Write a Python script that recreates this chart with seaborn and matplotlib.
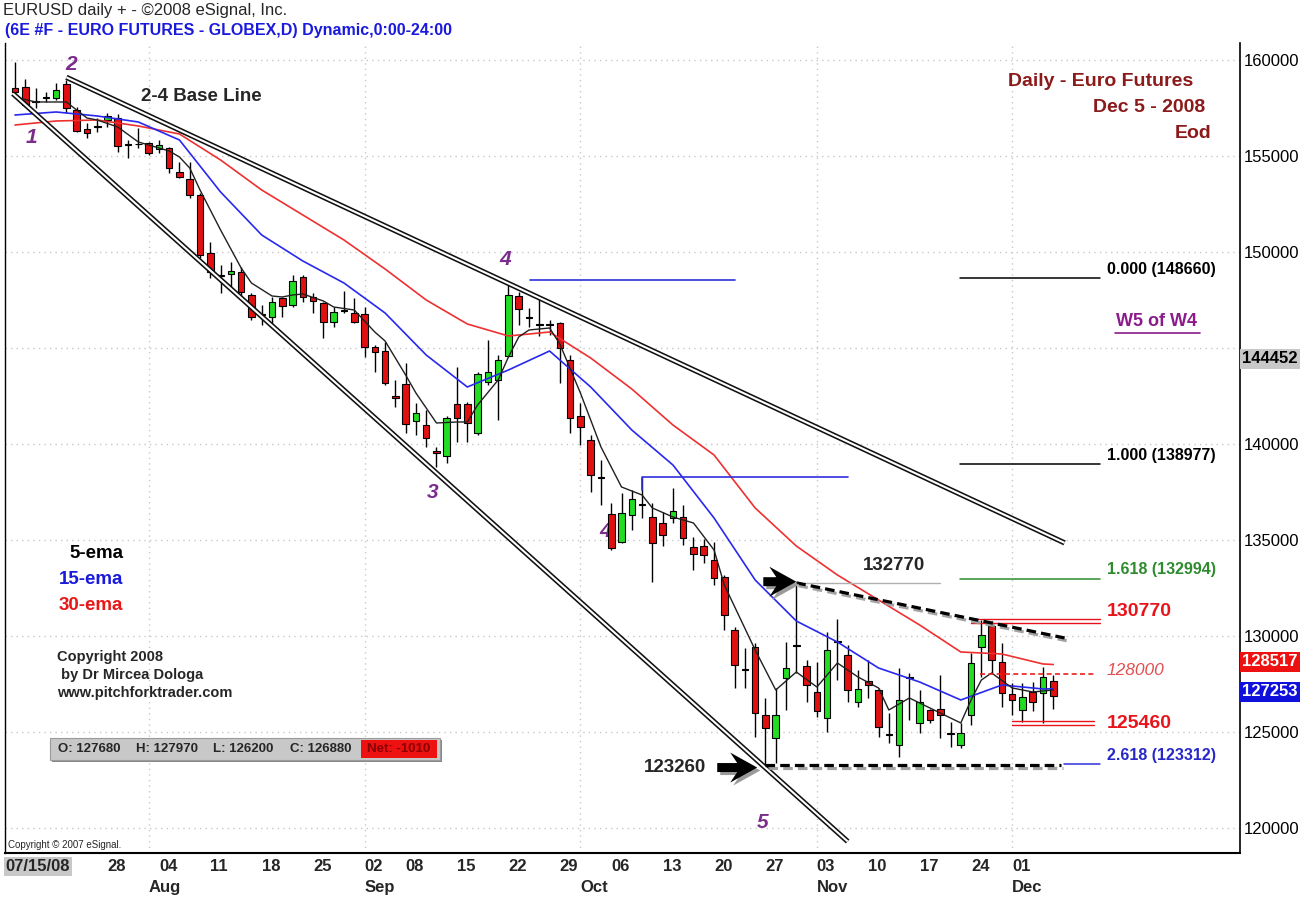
import numpy as np
import pandas as pd
import matplotlib
matplotlib.use("Agg")
import matplotlib.pyplot as plt
import matplotlib.transforms as mtransforms
from matplotlib import patheffects as pe
from matplotlib.patches import Rectangle, Polygon
from matplotlib.lines import Line2D
import seaborn as sns

# ---------------- data ----------------
dates = pd.bdate_range("2008-07-15", "2008-12-05")
dates = dates.drop([pd.Timestamp("2008-09-01"), pd.Timestamp("2008-11-27")])

opens = [158540,158600,157850,158050,158020,158750,157400,156400,156520,156870,
         156980,155600,155600,155680,155360,155420,154170,153800,152970,149950,
         148780,148850,148960,147760,146750,146610,147600,147240,148700,147660,
         147350,146350,146950,146820,146770,145050,144840,142500,143120,141200,
         140990,139630,139370,142080,142080,140570,143230,143330,144580,147710,
         146580,146220,146220,146300,144380,141460,140210,138250,136350,134900,
         136300,136840,136200,135890,136150,136200,134640,134690,133960,133070,
         130310,128250,129430,125880,124690,127810,129500,128440,127080,125730,
         129710,129010,126570,127660,127190,124860,124320,127830,125470,126150,
         126200,124920,124320,125890,129430,130520,128650,126980,126150,127080,
         127030,127680]
highs = [159900,159000,158540,158330,158800,158960,157550,156700,157000,157240,
         157180,155830,156460,155730,155830,155470,154690,154690,153070,150520,
         149320,149480,149220,147870,147240,147660,147660,148800,148800,147870,
         147400,147140,147970,147600,147140,145160,145310,143330,144220,142140,
         141770,139840,141460,144010,142190,143750,145420,144640,148390,147920,
         147080,147550,146460,146350,144640,142140,140470,139170,136930,137450,
         137600,138290,136930,136460,137710,136820,135160,135060,134900,133180,
         130470,129380,129640,126780,127290,129690,132770,128750,128650,130210,
         130880,129530,128230,128750,127290,125990,128340,128070,127190,126200,
         127970,125520,125470,129120,130830,130770,129640,127550,127550,127600,
         128390,127970]
lows = [158070,157550,157500,157800,157900,157240,156250,155950,156250,156500,
        155200,154900,155400,155050,155150,154120,153850,152810,149690,148650,
        147870,148180,147660,146460,146200,146200,146610,147140,147400,146820,
        145520,146090,146820,146300,144530,143750,143070,141930,140570,140470,
        139840,138800,139010,140100,140100,140470,143070,141250,144530,146200,
        146090,145620,145680,143180,140570,139950,137500,136820,134480,134850,
        135520,136150,132810,134690,135890,134740,133440,133800,132650,130310,
        127290,127290,124740,123260,123390,126150,128070,126570,125780,125000,
        127710,126570,126310,126780,124740,124430,123700,125630,124950,125470,
        124690,124220,124170,125370,127860,128070,126300,125890,125520,126100,
        125460,126200]
closes = [158330,157650,157800,158000,158440,157500,156300,156200,156560,157080,
          155520,155570,155640,155150,155570,154380,153900,152970,149840,148960,
          148750,149010,147920,146610,146720,147400,147190,148490,147660,147450,
          146350,146870,146930,146350,145050,144790,143180,142390,141040,141610,
          140310,139530,141350,141350,141090,143650,143750,144380,147760,147030,
          146560,146200,146200,145000,141350,140890,138390,138230,134580,136400,
          137140,136820,134850,135260,136510,135100,134280,134220,133020,131090,
          128490,128230,125990,125210,125880,128340,129480,127450,126100,129270,
          129690,127190,127240,127450,125260,124840,126670,127810,126570,125630,
          125890,124900,124950,128600,130050,128750,127030,126670,126830,126570,
          127890,126880]

ema_long_idx = [0,4,8,12,16,20,24,28,32,36,40,44,48,52,56,60,64,68,72,76,80,84,88,92,96,100,101]
ema30 = [156615,156823,156875,156563,156146,154792,153230,151928,150626,149115,147501,146251,
         145626,145834,144480,142866,140991,139428,136668,134689,133179,131877,130575,129169,
         129064,128544,128517]
ema15 = [157136,157292,157084,156771,155834,153125,150886,149532,148386,146824,144636,142970,
         143855,144845,142970,140730,138908,136147,132918,130783,129689,128335,127606,126669,
         127450,127242,127253]
ema5_idx = [0,2,5,7,8,10,12,13,15,16,17,18,20,21,22,23,25,26,27,28,30,31,33,35,36,38,39,41,43,44,
            45,47,48,49,50,52,53,55,57,59,61,62,64,66,68,69,72,74,76,78,80,82,84,85,87,89,92,93,94,95,
            97,99,101]
ema5 = [158073,157813,157813,156979,156875,156510,155730,155573,155261,154948,154375,153230,151146,
        150157,149167,148386,147709,147657,147761,147813,147449,147136,146980,145834,145365,143594,
        142658,141095,141147,141147,142033,143334,144532,145574,145938,146043,145209,142658,139845,
        137762,137345,136668,136200,135887,134481,132658,129273,127190,128127,127346,128596,127867,
        127294,126148,126773,126252,125471,126669,127710,128075,127294,127086,127190]

tick_dates = ["2008-07-15","2008-07-28","2008-08-04","2008-08-11","2008-08-18","2008-08-25",
              "2008-09-02","2008-09-08","2008-09-15","2008-09-22","2008-09-29","2008-10-06",
              "2008-10-13","2008-10-20","2008-10-27","2008-11-03","2008-11-10","2008-11-17",
              "2008-11-24","2008-12-01"]
tick_labels = ["07/15/08","28","04","11","18","25","02","08","15","22","29","06","13","20","27",
               "03","10","17","24","01"]
month_dates = ["2008-08-01","2008-09-02","2008-10-01","2008-11-03","2008-12-01"]
month_labels = ["Aug","Sep","Oct","Nov","Dec"]
y_ticks = [120000,125000,130000,135000,140000,145000,150000,155000,160000]

# annotation levels
upper_line_x = [5.0, 102.1]; upper_line_y = [159100, 134850]
lower_line_x = [-0.2, 81.0]; lower_line_y = [158250, 119300]
fib_levels = [148660, 138977, 132994]
fib_texts = ["0.000 (148660)", "1.000 (138977)", "1.618 (132994)"]
fib_colors = ["black", "black", "#2e8b2e"]
level_130770 = 130770
level_128000 = 128000
level_125460 = 125460
fib_2618 = 123312
high_5 = 132770
low_5 = 123260
dash_end_price = 129900
blue_top_level = 148550
blue_mid_level = 138290
blue_mid_low = 137600
last_ema30 = 128517
last_ema15 = 127253
cursor_price = 144452

# ---------------- figure ----------------
sns.set_theme(style="white")
plt.rcParams['font.family'] = ['Liberation Sans', 'DejaVu Sans']
W, H = 1313, 901
def fx(px): return px / W
def fy(py): return 1 - py / H

fig = plt.figure(figsize=(13.13, 9.01), dpi=100, facecolor="white")
ax = fig.add_axes([fx(5), 48 / H, 1235 / W, 810 / H])
ax.set_facecolor("white")
ax.set_xlim(-0.97, 119.16)
ax.set_ylim(118700, 160885)

n = len(closes)
idx = np.arange(n)
o = np.array(opens); h = np.array(highs); l = np.array(lows); c = np.array(closes)
up = c > o

pos = {d: i for i, d in enumerate(dates)}
month_idx = [pos[pd.Timestamp(d)] for d in month_dates]
tick_idx = [pos[pd.Timestamp(d)] for d in tick_dates]

# grid
for lvl in y_ticks:
    ax.axhline(lvl, color="#c8c8c8", lw=1.0, ls=(0, (1, 3)), zorder=0)
for m in month_idx:
    ax.axvline(m, color="#c8c8c8", lw=1.0, ls=(0, (1, 3)), zorder=0)

# wave labels (behind candles)
wave_col = "#7b2d8b"
for (xi, yv, t) in [(1.65, 155938, "1"), (5.5, 159740, "2"), (40.6, 137450, "3"),
                    (47.7, 149584, "4"), (57.4, 135418, "4"), (72.7, 120263, "5")]:
    ax.text(xi, yv, t, color=wave_col, fontsize=15, fontweight="bold", fontstyle="italic",
            ha="center", va="center", zorder=2)

# candles
ax.vlines(idx, l, h, color="black", lw=1.0, zorder=3)
bb = np.minimum(o, c)
bh = np.maximum(np.abs(c - o), 40)
ax.bar(idx[up], bh[up], bottom=bb[up], width=0.64, color="#22dd22", edgecolor="black", lw=0.8, zorder=4)
ax.bar(idx[~up], bh[~up], bottom=bb[~up], width=0.64, color="#e01010", edgecolor="black", lw=0.8, zorder=4)

# EMAs (seaborn)
sns.lineplot(x=ema_long_idx, y=ema30, color="#ee3030", lw=1.2, ax=ax, estimator=None, sort=False, zorder=5)
sns.lineplot(x=ema_long_idx, y=ema15, color="#2828ee", lw=1.2, ax=ax, estimator=None, sort=False, zorder=5)
sns.lineplot(x=ema5_idx, y=ema5, color="#202020", lw=1.0, ax=ax, estimator=None, sort=False, zorder=5)
ax.set_xlabel(""); ax.set_ylabel("")

# double trend lines
for xs, ys in [(upper_line_x, upper_line_y), (lower_line_x, lower_line_y)]:
    ax.plot(xs, ys, color="#111111", lw=3.8, solid_capstyle="butt", zorder=6)
    ax.plot(xs, ys, color="white", lw=1.5, solid_capstyle="butt", zorder=7)

# blue horizontal lines
ax.plot([50.1, 70.0], [blue_top_level] * 2, color="#3030dd", lw=1.2, zorder=6)
ax.plot([61.0, 61.0, 81.0], [blue_mid_low, blue_mid_level, blue_mid_level], color="#3030dd", lw=1.2, zorder=6)

# shadowed dashed lines
shadow = [pe.SimpleLineShadow(offset=(1.5, -2), shadow_color="#999999", alpha=0.9), pe.Normal()]
ax.plot([76.0, 102.1], [high_5, dash_end_price], color="black", lw=2.3, ls=(0, (3, 1.6)),
        zorder=8, path_effects=shadow)
ax.plot([73.0, 101.7], [low_5, low_5], color="black", lw=2.3, ls=(0, (3, 1.6)),
        zorder=8, path_effects=shadow)
ax.plot([76.0, 90.0], [high_5, high_5], color="#b0b0b0", lw=1.0, zorder=6)

# block arrows (pixel-shaped, anchored at their tip in data coords)
def block_arrow(tipx, tipy, tail):
    verts = [(0, 0), (-27, 15), (-20, 4.5), (-tail, 4.5), (-tail, -4.5), (-20, -4.5), (-27, -15)]
    for off, col in [((3, -3), "#9a9a9a"), ((0, 0), "black")]:
        tr = mtransforms.Affine2D().translate(*off) + mtransforms.ScaledTranslation(tipx, tipy, ax.transData)
        ax.add_patch(Polygon(verts, closed=True, fc=col, ec="none", transform=tr, zorder=9, clip_on=False))

block_arrow(76.0, 132830, 33)
block_arrow(72.2, 123150, 40)
ax.text(85.5, 133650, "132770", fontsize=13.5, fontweight="bold", ha="center", va="center", zorder=9)
ax.text(64.2, 123150, "123260", fontsize=13.5, fontweight="bold", ha="center", va="center", zorder=9)

# fib / level lines on the right
tx = 106.2
for lv, t, col in zip(fib_levels, fib_texts, fib_colors):
    ax.plot([91.9, 105.5], [lv, lv], color=col, lw=1.1, zorder=6)
    ax.text(tx, lv + 60, t, color=col, fontsize=11.5, fontweight="bold", ha="left", va="bottom")
for lv in (level_130770 - 110, level_130770 + 110):
    ax.plot([93.0, 105.5], [lv, lv], color="#e8141c", lw=1.0, zorder=6)
ax.text(tx, level_130770 + 90, "130770", color="#e8141c", fontsize=14, fontweight="bold", ha="left", va="bottom")
ax.plot([93.9, 105.2], [level_128000, level_128000], color="#e82020", lw=1.2, ls=(0, (3, 2)), zorder=6)
ax.text(tx, level_128000 + 200, "128000", color="#e05050", fontsize=12.5, fontstyle="italic", ha="left", va="center")
for lv in (level_125460 - 110, level_125460 + 110):
    ax.plot([97.0, 105.0], [lv, lv], color="#e8141c", lw=1.0, zorder=6)
ax.text(tx, level_125460, "125460", color="#e8141c", fontsize=14, fontweight="bold", ha="left", va="center")
ax.plot([102.0, 105.5], [fib_2618, fib_2618], color="#3030dd", lw=1.1, zorder=6)
ax.text(tx, fib_2618 + 80, "2.618 (123312)", color="#2828c8", fontsize=11.5, fontweight="bold", ha="left", va="bottom")

ax.text(18.1, 158073, "2-4 Base Line", fontsize=13.5, fontweight="bold", ha="center", va="center", zorder=10)

# axes styling
ax.spines["top"].set_visible(False)
for s in ["left", "right", "bottom"]:
    ax.spines[s].set_color("black")
ax.spines["left"].set_linewidth(1.0)
ax.spines["right"].set_linewidth(1.2)
ax.spines["bottom"].set_linewidth(1.5)
ax.yaxis.tick_right()
ax.set_yticks(y_ticks)
# 145000 is covered by the cursor-price box in the reference
ax.set_yticklabels(["" if v == 145000 else str(v) for v in y_ticks])
ax.tick_params(axis="y", labelsize=12, length=0, pad=3, colors="black")
ax.set_xticks(tick_idx)
ax.set_xticklabels([])
ax.tick_params(axis="x", direction="in", length=4, color="black")

trans = mtransforms.blended_transform_factory(ax.transData, ax.transAxes)
for ti, lab in zip(tick_idx, tick_labels):
    if lab == "07/15/08":
        ax.text(-0.9, -0.017, lab, transform=trans, fontsize=12, fontweight="bold", ha="left", va="center",
                bbox=dict(boxstyle="square,pad=0.12", fc="#c8c8c8", ec="none"))
    else:
        ax.text(ti, -0.017, lab, transform=trans, fontsize=12, fontweight="bold", ha="left", va="center")
for mi, lab in zip(month_idx, month_labels):
    ax.text(mi, -0.043, lab, transform=trans, fontsize=12, fontweight="bold", ha="left", va="center")

# right-side value boxes
ytr = ax.get_yaxis_transform()
ax.text(1.002, cursor_price, str(cursor_price), transform=ytr, fontsize=12, fontweight="bold", color="black",
        ha="left", va="center", bbox=dict(boxstyle="square,pad=0.15", fc="#c8c8c8", ec="none"), zorder=12)
ax.text(1.002, last_ema30 + 150, str(last_ema30), transform=ytr, fontsize=12, fontweight="bold", color="white",
        ha="left", va="center", bbox=dict(boxstyle="square,pad=0.15", fc="#ee1111", ec="none"), zorder=12)
ax.text(1.002, last_ema15 - 150, str(last_ema15), transform=ytr, fontsize=12, fontweight="bold", color="white",
        ha="left", va="center", bbox=dict(boxstyle="square,pad=0.15", fc="#1010dd", ec="none"), zorder=12)

# header texts
fig.text(fx(3), fy(11), "EURUSD daily + - ©2008 eSignal, Inc.", fontsize=12, ha="left", va="center")
fig.text(fx(5), fy(30), "(6E #F - EURO FUTURES - GLOBEX,D) Dynamic,0:00-24:00", fontsize=11.5,
         fontweight="bold", color="#1a1adc", ha="left", va="center")

dred = "#8b1a1a"
fig.text(fx(1193), fy(82), "Daily - Euro Futures", fontsize=14, fontweight="bold", color=dred, ha="right", va="center")
fig.text(fx(1205), fy(108), "Dec 5 - 2008", fontsize=14, fontweight="bold", color=dred, ha="right", va="center")
fig.text(fx(1211), fy(134), "Eod", fontsize=14, fontweight="bold", color=dred, ha="right", va="center")

fig.text(fx(1157), fy(322), "W5 of W4", fontsize=13, fontweight="bold", color="#8b1a8b", ha="center", va="center")
fig.add_artist(Line2D([fx(1115), fx(1200)], [fy(333), fy(333)], color="#8b1a8b", lw=1.2, transform=fig.transFigure))

# ema legend
fig.text(fx(123), fy(553), "5-ema", fontsize=13.5, fontweight="bold", color="black", ha="right", va="center")
fig.text(fx(123), fy(579), "15-ema", fontsize=13.5, fontweight="bold", color="#1a1adc", ha="right", va="center")
fig.text(fx(123), fy(605), "30-ema", fontsize=13.5, fontweight="bold", color="#e81818", ha="right", va="center")

# copyright
fig.text(fx(57), fy(657), "Copyright 2008", fontsize=10.5, fontweight="bold", ha="left", va="center")
fig.text(fx(57), fy(675), " by Dr Mircea Dologa", fontsize=10.5, fontweight="bold", ha="left", va="center")
fig.text(fx(57), fy(693), "www.pitchforktrader.com", fontsize=10.5, fontweight="bold", ha="left", va="center")
fig.text(fx(8), fy(845), "Copyright © 2007 eSignal.", fontsize=7, ha="left", va="center")

# OHLC info box
fig.add_artist(Rectangle((fx(52), fy(762)), 390 / W, 22 / H, transform=fig.transFigure, fc="#888888", ec="none"))
fig.add_artist(Rectangle((fx(50), fy(760)), 390 / W, 22 / H, transform=fig.transFigure, fc="#c8c8c8", ec="#9a9a9a", lw=0.8))
fig.add_artist(Rectangle((fx(361), fy(758)), 76 / W, 18 / H, transform=fig.transFigure, fc="#ee1111", ec="none"))
info = [(58, f"O: {opens[-1]}"), (136, f"H: {highs[-1]}"), (213, f"L: {lows[-1]}"), (290, f"C: {closes[-1]}")]
for px, t in info:
    fig.text(fx(px), fy(749), t, fontsize=9.5, fontweight="bold", ha="left", va="center")
fig.text(fx(367), fy(749), f"Net: {closes[-1] - closes[-2]}", fontsize=9.5, fontweight="bold",
         color="#8b0000", ha="left", va="center")

fig.savefig("out.png", dpi=100, facecolor="white")
